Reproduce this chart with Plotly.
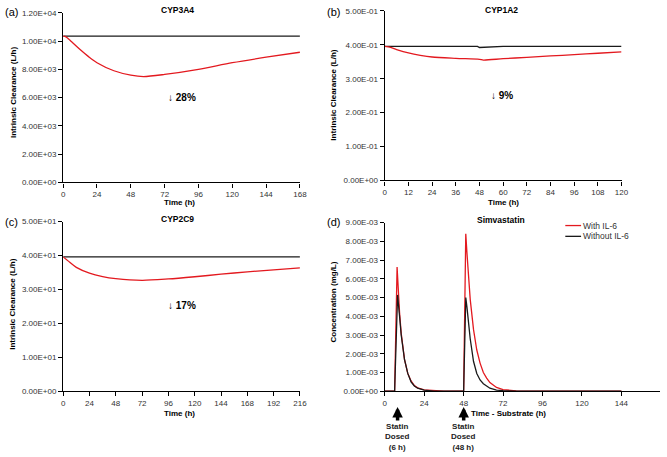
import plotly.graph_objects as go

# ---------------- data ----------------
# (a) CYP3A4
t_a = [0, 2, 6, 12, 18, 24, 36, 48, 57, 72, 96, 120, 144, 168]
a_with = [10350, 10300, 9950, 9400, 8900, 8470, 7900, 7590, 7490, 7640, 8000, 8470, 8860, 9210]
t_a_ctrl = [0, 168]
a_without = [10350, 10350]

# (b) CYP1A2
t_b = [0, 3, 6, 12, 18, 24, 36, 48, 50, 60, 72, 84, 96, 108, 120]
b_with = [0.395, 0.392, 0.386, 0.376, 0.369, 0.364, 0.360, 0.357, 0.355, 0.359, 0.363, 0.367, 0.371, 0.375, 0.379]
t_b_ctrl = [0, 47, 48, 52, 60, 120]
b_without = [0.395, 0.395, 0.392, 0.393, 0.395, 0.395]

# (c) CYP2C9
t_c = [0, 6, 12, 24, 36, 48, 72, 96, 120, 144, 168, 192, 216]
c_with = [39.6, 38.0, 36.5, 34.8, 33.8, 33.2, 32.7, 33.1, 33.75, 34.5, 35.2, 35.8, 36.35]
t_c_ctrl = [0, 216]
c_without = [39.6, 39.6]

# (d) Simvastatin concentration (mg/L)
t_d_red = [0, 6, 7.5, 8, 9, 10, 11, 12, 14, 16, 18, 20, 24, 30, 36, 48, 49.3, 50, 51, 52, 54, 56,
           58, 60, 62, 64, 68, 72, 80, 96, 144]
d_with = [0, 0, 6.63e-3, 5.7e-3, 4.2e-3, 3.1e-3, 2.3e-3, 1.7e-3, 0.95e-3, 0.55e-3, 0.3e-3, 0.18e-3,
          0.07e-3, 0.02e-3, 0.01e-3, 0, 8.4e-3, 7.4e-3, 6.0e-3, 4.9e-3, 3.3e-3, 2.2e-3,
          1.5e-3, 1.0e-3, 0.7e-3, 0.46e-3, 0.2e-3, 0.09e-3, 0.02e-3, 0, 0]
t_d_blk = [0, 6, 7.8, 8, 9, 10, 11, 12, 14, 16, 18, 20, 24, 30, 48, 49.3, 50, 51, 52, 54, 56,
           58, 60, 64, 68, 72, 80, 144]
d_without = [0, 0, 5.14e-3, 5.0e-3, 4.0e-3, 3.0e-3, 2.3e-3, 1.7e-3, 0.95e-3, 0.5e-3, 0.28e-3, 0.16e-3,
             0.06e-3, 0.01e-3, 0, 5.0e-3, 4.5e-3, 3.7e-3, 2.8e-3, 1.6e-3, 0.95e-3,
             0.6e-3, 0.4e-3, 0.16e-3, 0.06e-3, 0.03e-3, 0.005e-3, 0]

ticks_ya = [0, 2000, 4000, 6000, 8000, 10000, 12000]
ticks_yb = [0, 0.1, 0.2, 0.3, 0.4, 0.5]
ticks_yc = [0, 10, 20, 30, 40, 50]
ticks_yd = [0, 1e-3, 2e-3, 3e-3, 4e-3, 5e-3, 6e-3, 7e-3, 8e-3, 9e-3]
ticks_xa = [0, 24, 48, 72, 96, 120, 144, 168]
ticks_xb = [0, 12, 24, 36, 48, 60, 72, 84, 96, 108, 120]
ticks_xc = [0, 24, 48, 72, 96, 120, 144, 168, 192, 216]
ticks_xd = [0, 24, 48, 72, 96, 120, 144]

titles = ["CYP3A4", "CYP1A2", "CYP2C9", "Simvastatin"]
reductions = ["↓ 28%", "↓ 9%", "↓ 17%"]
legend_names = ["With IL-6", "Without IL-6"]

RED = "#e3191f"
BLK = "#1a1a1a"
W, H = 667, 457
OFF = 0  # body margin removed via post_script
FONT = "Liberation Sans, Arial, sans-serif"


def px(x):
    return (x - OFF) / W


def py(y):
    return 1 - (y - OFF) / H


def dom(a, b):
    return [max(0.0, min(1.0, a)), max(0.0, min(1.0, b))]


fig = go.Figure()

lw = 1.3
panels = [
    ("x", "y", t_a, a_with, t_a_ctrl, a_without),
    ("x2", "y2", t_b, b_with, t_b_ctrl, b_without),
    ("x3", "y3", t_c, c_with, t_c_ctrl, c_without),
]
for xa, ya, tw, vw, tc, vc in panels:
    fig.add_trace(go.Scatter(x=tc, y=vc, mode="lines", line=dict(color=BLK, width=lw),
                             xaxis=xa, yaxis=ya, showlegend=False))
    fig.add_trace(go.Scatter(x=tw, y=vw, mode="lines", line=dict(color=RED, width=lw, shape="spline", smoothing=0.8),
                             xaxis=xa, yaxis=ya, showlegend=False))

fig.add_trace(go.Scatter(x=t_d_red, y=d_with, mode="lines", line=dict(color=RED, width=lw),
                         xaxis="x4", yaxis="y4", showlegend=False, cliponaxis=False))
fig.add_trace(go.Scatter(x=t_d_blk, y=d_without, mode="lines", line=dict(color=BLK, width=lw),
                         xaxis="x4", yaxis="y4", showlegend=False, cliponaxis=False))

tickfont = dict(family=FONT, size=8, color="#333333")


def xaxis(domain, rng, ticks, anchor):
    return dict(domain=domain, range=rng, tickvals=ticks, ticktext=[str(t) for t in ticks],
                showgrid=False, zeroline=False, showline=True, linecolor="black", linewidth=1.3,
                ticks="outside", ticklen=4, tickcolor="black", tickwidth=1, tickfont=tickfont,
                anchor=anchor)


def yaxis(domain, rng, ticks, anchor):
    return dict(domain=domain, range=rng, tickvals=ticks, ticktext=[f"{t:.2E}" for t in ticks],
                showgrid=False, zeroline=False, showline=True, linecolor="black", linewidth=1.3,
                ticks="outside", ticklen=4, tickcolor="black", tickwidth=1, tickfont=tickfont,
                anchor=anchor)


fig.update_layout(
    width=W, height=H, margin=dict(l=0, r=0, t=0, b=0),
    paper_bgcolor="white", plot_bgcolor="white",
    xaxis=xaxis(dom(px(62), px(302)), [0, 168], ticks_xa, "y"),
    yaxis=yaxis(dom(py(182), py(9)), [0, 12000], ticks_ya, "x"),
    xaxis2=xaxis(dom(px(388), px(628)), [0, 120], ticks_xb, "y2"),
    yaxis2=yaxis(dom(py(180), py(7)), [0, 0.5], ticks_yb, "x2"),
    xaxis3=xaxis(dom(px(62), px(302)), [0, 216], ticks_xc, "y3"),
    yaxis3=yaxis(dom(py(395), py(222)), [0, 50], ticks_yc, "x3"),
    xaxis4=xaxis(dom(px(388), px(667)), [0, 167.5], ticks_xd, "y4"),
    yaxis4=yaxis(dom(py(395), py(223)), [0, 9e-3], ticks_yd, "x4"),
    showlegend=False,
)

ann = []


def text(x, y, s, size=8, bold=True, color="black", angle=0, xanchor="center"):
    ann.append(dict(x=px(x), y=py(y), xref="paper", yref="paper", text=f"<b>{s}</b>" if bold else s,
                    showarrow=False, font=dict(family=FONT, size=size, color=color),
                    textangle=angle, xanchor=xanchor, yanchor="middle"))


# panel letters
text(10, 8, "(a)", size=11, bold=False)
text(336, 8, "(b)", size=11, bold=False)
text(10, 222, "(c)", size=11, bold=False)
text(336, 222, "(d)", size=11, bold=False)

# titles
text(178, 6, titles[0], size=8.5)
text(506, 6, titles[1], size=8.5)
text(178, 219, titles[2], size=8.5)
text(506, 220, titles[3], size=8.5)

# axis titles
text(180, 202, "Time (h)", size=8)
text(508, 202, "Time (h)", size=8)
text(180, 418, "Time (h)", size=8)
text(513, 418, "Time - Substrate (h)", size=8)
text(11, 90, "Intrinsic Clearance (L/h)", size=8, angle=-90)
text(336, 93, "Intrinsic Clearance (L/h)", size=8, angle=-90)
text(11, 306, "Intrinsic Clearance (L/h)", size=8, angle=-90)
text(336, 304, "Concentration (mg/L)", size=8, angle=-90)

# reductions
text(182, 95, reductions[0], size=10)
text(507, 93, reductions[1], size=10)
text(182, 308, reductions[2], size=10)

# dose annotations
for xpix, lbl in [(401, "Statin<br>Dosed<br>(6 h)"), (468, "Statin<br>Dosed<br>(48 h)")]:
    ann.append(dict(x=px(xpix), y=py(411), xref="paper", yref="paper", text="", showarrow=True,
                    ax=0, ay=15, arrowhead=2, arrowsize=0.6, arrowwidth=3.5, arrowcolor="black"))
    ann.append(dict(x=px(xpix), y=py(441.5), xref="paper", yref="paper", text=f"<b>{lbl}</b>",
                    showarrow=False, font=dict(family=FONT, size=8, color="#222222"),
                    xanchor="center", yanchor="middle"))

# manual legend
shapes = []
for ypix, col, name in [(226, RED, legend_names[0]), (237, BLK, legend_names[1])]:
    shapes.append(dict(type="line", xref="paper", yref="paper", x0=px(571), x1=px(587),
                       y0=py(ypix), y1=py(ypix), line=dict(color=col, width=1.3)))
    text(587, ypix, name, size=8.5, bold=False, color="#333333", xanchor="left")

fig.update_layout(annotations=ann, shapes=shapes)
fig.write_html("out.html", config={"displayModeBar": False},
               post_script="document.body.style.margin='0';document.body.style.overflow='hidden';")
